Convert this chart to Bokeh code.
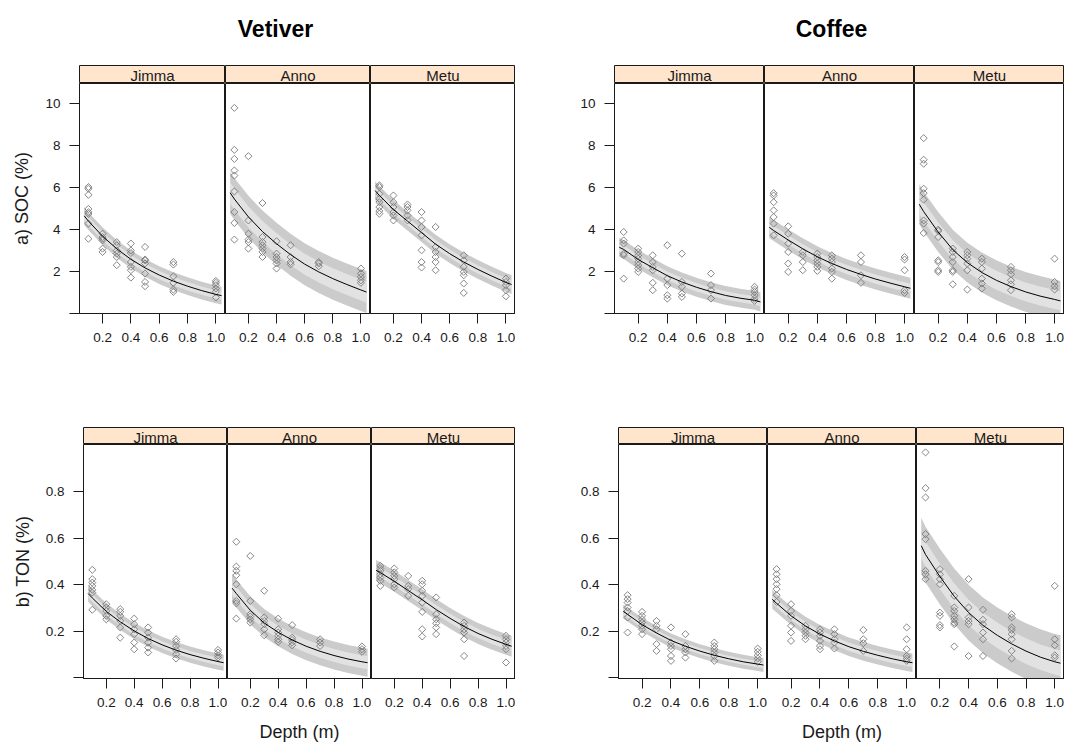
import numpy as np
from bokeh.plotting import figure
from bokeh.layouts import row, column
from bokeh.models import Range1d, FixedTicker, Spacer
from bokeh.core.properties import value
from bokeh.embed import file_html
from bokeh.resources import INLINE

SITES = ["Jimma", "Anno", "Metu"]
X_TICKS = [0.2, 0.4, 0.6, 0.8, 1.0]
X_TICK_LABELS = ["0.2", "0.4", "0.6", "0.8", "1.0"]
SOC_TICKS = [0, 2, 4, 6, 8, 10]
SOC_TICK_LABELS = ["", "2", "4", "6", "8", "10"]
TON_TICKS = [0.0, 0.2, 0.4, 0.6, 0.8]
TON_TICK_LABELS = ["", "0.2", "0.4", "0.6", "0.8"]

# depths at which the fitted decay curve is drawn (m)
FIT_DEPTH = [0.07, 0.1, 0.2, 0.3, 0.4, 0.5, 0.6, 0.7, 0.8, 0.9, 1.0, 1.04]

# ---- observations: depth (m) -> measured values (%) ----
VET_SOC_JIMMA = {
    0.1: [6.02, 5.94, 5.65, 4.98, 4.82, 4.74, 4.28, 3.56],
    0.2: [3.80, 3.64, 3.56, 3.48, 3.09, 2.93],
    0.3: [3.40, 3.25, 3.00, 2.85, 2.69, 2.30],
    0.4: [3.33, 3.00, 2.88, 2.45, 2.22, 2.06, 1.71],
    0.5: [3.17, 2.57, 2.53, 2.38, 1.90, 1.50, 1.30],
    0.7: [2.45, 2.33, 1.77, 1.46, 1.14, 1.03],
    1.0: [1.55, 1.46, 1.35, 1.19, 1.03, 0.76],
}
VET_SOC_ANNO = {
    0.1: [9.79, 7.79, 7.36, 6.81, 6.57, 5.81, 4.83, 4.31, 3.52],
    0.2: [7.49, 4.43, 3.80, 3.52, 3.40, 3.09],
    0.3: [5.26, 3.64, 3.40, 3.25, 3.09, 2.93, 2.69],
    0.4: [3.44, 2.85, 2.69, 2.53, 2.38, 2.14],
    0.5: [3.25, 2.69, 2.45, 2.34],
    0.7: [2.45, 2.38, 2.25],
    1.0: [2.14, 1.90, 1.74, 1.58, 1.46],
}
VET_SOC_METU = {
    0.1: [6.10, 6.02, 5.70, 5.46, 5.30, 5.07, 4.88, 4.75],
    0.2: [5.62, 5.30, 5.07, 4.83, 4.67, 4.43],
    0.3: [5.19, 5.07, 4.91, 4.67, 4.43],
    0.4: [4.83, 4.43, 4.12, 3.72, 3.01, 2.45, 2.19],
    0.5: [4.12, 3.17, 2.93, 2.69, 2.45, 2.06],
    0.7: [2.77, 2.53, 2.22, 1.98, 1.82, 1.43, 0.98],
    1.0: [1.66, 1.50, 1.35, 1.11, 0.82],
}
COF_SOC_JIMMA = {
    0.1: [3.88, 3.48, 3.33, 2.85, 2.77, 1.66],
    0.2: [3.09, 2.93, 2.77, 2.61, 2.45, 2.30, 2.14, 1.98],
    0.3: [2.77, 2.45, 2.22, 2.06, 1.46, 1.11],
    0.4: [3.25, 1.66, 1.35, 0.87, 0.71],
    0.5: [2.85, 1.50, 1.27, 0.95, 0.79],
    0.7: [1.90, 1.35, 1.11, 0.71],
    1.0: [1.27, 1.14, 1.03, 0.87, 0.71, 0.60],
}
COF_SOC_ANNO = {
    0.1: [5.73, 5.62, 5.30, 4.91, 4.59, 4.28, 3.72],
    0.2: [4.15, 3.80, 3.33, 2.93, 2.38, 1.98],
    0.3: [2.93, 2.77, 2.45, 2.06],
    0.4: [2.85, 2.69, 2.53, 2.38, 2.22, 2.03],
    0.5: [2.77, 2.61, 2.45, 2.14, 1.98, 1.66],
    0.7: [2.77, 2.45, 1.82, 1.46],
    1.0: [2.69, 2.57, 2.06, 1.11, 0.98],
}
COF_SOC_METU = {
    0.1: [8.35, 7.32, 7.13, 5.94, 5.73, 5.42, 4.43, 4.28, 3.83],
    0.2: [3.99, 3.93, 3.64, 2.53, 2.45, 2.06, 1.98],
    0.3: [3.09, 2.93, 2.69, 2.45, 2.06, 1.98, 1.39],
    0.4: [2.93, 2.77, 2.61, 2.38, 2.06, 1.14],
    0.5: [2.61, 2.45, 2.14, 1.66, 1.43, 1.19],
    0.7: [2.22, 2.06, 1.87, 1.58, 1.39, 1.11],
    1.0: [2.61, 1.50, 1.30, 1.14],
}
VET_TON_JIMMA = {
    0.1: [0.464, 0.424, 0.409, 0.395, 0.378, 0.366, 0.292],
    0.2: [0.316, 0.302, 0.287, 0.266, 0.251],
    0.3: [0.295, 0.283, 0.266, 0.244, 0.216, 0.172],
    0.4: [0.254, 0.230, 0.208, 0.187, 0.151, 0.122],
    0.5: [0.216, 0.194, 0.172, 0.151, 0.129, 0.108],
    0.7: [0.165, 0.154, 0.136, 0.119, 0.101, 0.082],
    1.0: [0.119, 0.108, 0.096, 0.086],
}
VET_TON_ANNO = {
    0.1: [0.585, 0.478, 0.460, 0.441, 0.402, 0.330, 0.320, 0.254],
    0.2: [0.524, 0.330, 0.273, 0.263, 0.251, 0.237],
    0.3: [0.374, 0.259, 0.244, 0.230, 0.208, 0.182],
    0.4: [0.254, 0.208, 0.194, 0.180, 0.165, 0.154],
    0.5: [0.226, 0.172, 0.162, 0.151, 0.139],
    0.7: [0.165, 0.151, 0.136],
    1.0: [0.134, 0.122, 0.111],
}
VET_TON_METU = {
    0.1: [0.481, 0.470, 0.460, 0.445, 0.431, 0.417, 0.395],
    0.2: [0.470, 0.453, 0.438, 0.424, 0.402, 0.388],
    0.3: [0.438, 0.395, 0.381, 0.352],
    0.4: [0.417, 0.402, 0.374, 0.352, 0.323, 0.283, 0.208, 0.177],
    0.5: [0.345, 0.273, 0.251, 0.234, 0.216, 0.187],
    0.7: [0.237, 0.223, 0.208, 0.194, 0.165, 0.093],
    1.0: [0.180, 0.165, 0.151, 0.136, 0.122, 0.065],
}
COF_TON_JIMMA = {
    0.1: [0.355, 0.338, 0.323, 0.302, 0.287, 0.259, 0.194],
    0.2: [0.283, 0.266, 0.251, 0.237, 0.223, 0.208, 0.187],
    0.3: [0.244, 0.223, 0.208, 0.144, 0.115],
    0.4: [0.216, 0.151, 0.136, 0.122, 0.093, 0.072],
    0.5: [0.187, 0.136, 0.122, 0.108, 0.086],
    0.7: [0.151, 0.136, 0.122, 0.108, 0.093, 0.072],
    1.0: [0.125, 0.111, 0.096, 0.082, 0.068],
}
COF_TON_ANNO = {
    0.1: [0.467, 0.445, 0.424, 0.402, 0.381, 0.355, 0.326],
    0.2: [0.316, 0.287, 0.266, 0.223, 0.194, 0.158],
    0.3: [0.223, 0.208, 0.194, 0.180, 0.165],
    0.4: [0.208, 0.194, 0.180, 0.158, 0.136, 0.122],
    0.5: [0.208, 0.187, 0.165, 0.151, 0.125],
    0.7: [0.205, 0.165, 0.148, 0.115],
    1.0: [0.216, 0.165, 0.122, 0.093, 0.082, 0.072],
}
COF_TON_METU = {
    0.1: [0.970, 0.816, 0.776, 0.618, 0.596, 0.460, 0.445, 0.424],
    0.2: [0.467, 0.445, 0.424, 0.402, 0.280, 0.266, 0.226, 0.216],
    0.3: [0.352, 0.302, 0.287, 0.266, 0.251, 0.237, 0.230, 0.134],
    0.4: [0.424, 0.302, 0.259, 0.244, 0.230, 0.093],
    0.5: [0.292, 0.249, 0.230, 0.194, 0.165, 0.093],
    0.7: [0.273, 0.259, 0.216, 0.205, 0.187, 0.165, 0.115, 0.082],
    1.0: [0.395, 0.165, 0.139, 0.096, 0.086],
}

# ---- fitted curves at FIT_DEPTH ----
VET_SOC_JIMMA_FIT = [4.65, 4.40, 3.68, 3.08, 2.58, 2.17, 1.83, 1.54, 1.30, 1.09, 0.91, 0.85]
VET_SOC_ANNO_FIT = [5.75, 5.45, 4.60, 3.90, 3.32, 2.80, 2.35, 1.98, 1.66, 1.38, 1.12, 1.02]
VET_SOC_METU_FIT = [5.85, 5.62, 4.95, 4.40, 3.85, 3.30, 2.85, 2.45, 2.10, 1.78, 1.48, 1.38]
COF_SOC_JIMMA_FIT = [3.15, 3.05, 2.57, 2.18, 1.80, 1.50, 1.25, 1.04, 0.86, 0.73, 0.63, 0.55]
COF_SOC_ANNO_FIT = [4.10, 3.95, 3.50, 3.08, 2.70, 2.38, 2.10, 1.86, 1.64, 1.45, 1.27, 1.20]
COF_SOC_METU_FIT = [5.20, 4.85, 3.88, 3.04, 2.42, 1.95, 1.58, 1.28, 1.03, 0.83, 0.67, 0.60]
VET_TON_JIMMA_FIT = [0.362, 0.343, 0.285, 0.240, 0.201, 0.168, 0.141, 0.118, 0.099, 0.083, 0.069, 0.064]
VET_TON_ANNO_FIT = [0.385, 0.362, 0.290, 0.235, 0.195, 0.162, 0.135, 0.113, 0.095, 0.080, 0.068, 0.064]
VET_TON_METU_FIT = [0.462, 0.452, 0.415, 0.375, 0.335, 0.293, 0.255, 0.220, 0.190, 0.165, 0.143, 0.135]
COF_TON_JIMMA_FIT = [0.285, 0.272, 0.228, 0.192, 0.160, 0.135, 0.114, 0.096, 0.081, 0.068, 0.058, 0.054]
COF_TON_ANNO_FIT = [0.337, 0.320, 0.266, 0.222, 0.187, 0.158, 0.133, 0.113, 0.096, 0.081, 0.068, 0.064]
COF_TON_METU_FIT = [0.568, 0.530, 0.435, 0.350, 0.280, 0.225, 0.182, 0.145, 0.114, 0.088, 0.068, 0.062]

# ---- band half-widths around each curve: (outer, inner) ----
VET_SOC_BAND = [(0.42, 0.20), (1.00, 0.50), (0.45, 0.20)]
COF_SOC_BAND = [(0.45, 0.20), (0.50, 0.22), (0.95, 0.45)]
VET_TON_BAND = [(0.035, 0.016), (0.060, 0.028), (0.045, 0.020)]
COF_TON_BAND = [(0.030, 0.013), (0.040, 0.018), (0.120, 0.055)]

FONT = "Liberation Sans"
INK = "#1a1a1a"
STRIP_FILL = "#ffe5cc"
OUTER_BAND = "#cbcbcb"
INNER_BAND = "#e2e2e2"
POINT_COLOR = "#7a7a7a"
X_RANGE = (0.037, 1.068)


def make_panel(obs, fit, band, y_range, y_ticks, y_labels, frame_w, frame_h,
               left, bottom, y_title=None, x_title=None):
    p = figure(width=frame_w + left, height=frame_h + bottom,
               x_range=Range1d(*X_RANGE), y_range=Range1d(*y_range),
               min_border_left=left, min_border_right=0, min_border_top=0,
               min_border_bottom=bottom, toolbar_location=None,
               output_backend="svg",
               y_axis_location="left" if y_title else None)
    p.grid.visible = False
    p.outline_line_color = INK
    p.outline_line_width = 1

    fx = np.array(FIT_DEPTH)
    fy = np.array(fit)
    outer, inner = band
    p.varea(x=fx, y1=fy - outer, y2=fy + outer, fill_color=OUTER_BAND)
    p.varea(x=fx, y1=fy - inner, y2=fy + inner, fill_color=INNER_BAND)

    xs, ys = [], []
    for d, vals in obs.items():
        xs += [d] * len(vals)
        ys += vals
    p.scatter(xs, ys, marker="square", angle=np.pi / 4, size=5,
              fill_color=None, line_color=POINT_COLOR, line_width=1, line_alpha=0.9)
    p.line(fx, fy, line_color="black", line_width=1)

    xa = p.xaxis[0]
    xa.ticker = FixedTicker(ticks=X_TICKS)
    xa.major_label_overrides = dict(zip(X_TICKS, X_TICK_LABELS))
    axes = [xa]
    if y_title:
        ya = p.yaxis[0]
        ya.ticker = FixedTicker(ticks=y_ticks)
        ya.major_label_overrides = dict(zip(y_ticks, y_labels))
        ya.axis_label = y_title
        ya.axis_label_standoff = 10
        axes.append(ya)
    if x_title:
        xa.axis_label = x_title
        xa.axis_label_standoff = 12
    for ax in axes:
        ax.axis_line_color = INK
        ax.major_tick_line_color = INK
        ax.major_tick_out = 10
        ax.major_tick_in = 0
        ax.minor_tick_line_color = None
        ax.major_label_standoff = 9
        ax.major_label_text_font = FONT
        ax.major_label_text_font_size = "13.5px"
        ax.major_label_text_color = INK
        ax.axis_label_text_font = FONT
        ax.axis_label_text_font_size = "18px"
        ax.axis_label_text_font_style = "normal"
        ax.axis_label_text_color = INK
    return p


def make_strip(name, frame_w, h):
    s = figure(width=frame_w, height=h, x_range=Range1d(0, 1), y_range=Range1d(0, 1),
               min_border_left=0, min_border_right=0, min_border_top=0, min_border_bottom=0,
               toolbar_location=None, output_backend="svg",
               x_axis_location=None, y_axis_location=None)
    s.grid.visible = False
    s.background_fill_color = STRIP_FILL
    s.outline_line_color = INK
    s.text(x=[0.5], y=[0.5], text=[name], text_align="center", text_baseline="middle",
           y_offset=1, text_font=value(FONT), text_font_size="15px", text_color=INK)
    return s


def make_group(data, fits, bands, y_range, y_ticks, y_labels, widths, left, frame_h,
               bottom, strip_h, right_pad, y_title, x_title):
    strips = [Spacer(width=left, height=strip_h)]
    panels = []
    for i, site in enumerate(SITES):
        strips.append(make_strip(site, widths[i], strip_h))
        panels.append(make_panel(data[i], fits[i], bands[i], y_range, y_ticks, y_labels,
                                 widths[i], frame_h, left if i == 0 else 0, bottom,
                                 y_title=y_title if i == 0 else None,
                                 x_title=x_title if i == 1 else None))
    strips.append(Spacer(width=right_pad, height=strip_h))
    panels.append(Spacer(width=right_pad, height=frame_h + bottom))
    return column(row(*strips, spacing=0), row(*panels, spacing=0), spacing=0)


SOC_RANGE = (0.0, 10.95)
TON_RANGE = (-0.004, 1.004)

vet_soc = make_group([VET_SOC_JIMMA, VET_SOC_ANNO, VET_SOC_METU],
                     [VET_SOC_JIMMA_FIT, VET_SOC_ANNO_FIT, VET_SOC_METU_FIT], VET_SOC_BAND,
                     SOC_RANGE, SOC_TICKS, SOC_TICK_LABELS, [146, 145, 145], 79, 230, 114, 18, 19,
                     "a) SOC (%)", None)
cof_soc = make_group([COF_SOC_JIMMA, COF_SOC_ANNO, COF_SOC_METU],
                     [COF_SOC_JIMMA_FIT, COF_SOC_ANNO_FIT, COF_SOC_METU_FIT], COF_SOC_BAND,
                     SOC_RANGE, SOC_TICKS, SOC_TICK_LABELS, [150, 150, 150], 80, 230, 114, 18, 4,
                     " ", None)
vet_ton = make_group([VET_TON_JIMMA, VET_TON_ANNO, VET_TON_METU],
                     [VET_TON_JIMMA_FIT, VET_TON_ANNO_FIT, VET_TON_METU_FIT], VET_TON_BAND,
                     TON_RANGE, TON_TICKS, TON_TICK_LABELS, [144, 144, 144], 83, 234, 69, 17, 19,
                     "b) TON (%)", "Depth (m)")
cof_ton = make_group([COF_TON_JIMMA, COF_TON_ANNO, COF_TON_METU],
                     [COF_TON_JIMMA_FIT, COF_TON_ANNO_FIT, COF_TON_METU_FIT], COF_TON_BAND,
                     TON_RANGE, TON_TICKS, TON_TICK_LABELS, [149, 149, 148], 84, 234, 69, 17, 4,
                     " ", "Depth (m)")

# column titles
head = figure(width=1068, height=65, x_range=Range1d(0, 1068), y_range=Range1d(0, 65),
              min_border_left=0, min_border_right=0, min_border_top=0, min_border_bottom=0,
              toolbar_location=None, output_backend="svg",
              x_axis_location=None, y_axis_location=None)
head.grid.visible = False
head.outline_line_color = None
head.text(x=[275, 831], y=[36.5, 36.5], text=["Vetiver", "Coffee"], text_align="center",
          text_baseline="alphabetic", text_font=value(FONT), text_font_style="bold",
          text_font_size="23px", text_color="black")

layout = column(head, row(vet_soc, cof_soc, spacing=0), row(vet_ton, cof_ton, spacing=0),
                spacing=0)

open("out.html", "w").write(file_html(layout, INLINE))
